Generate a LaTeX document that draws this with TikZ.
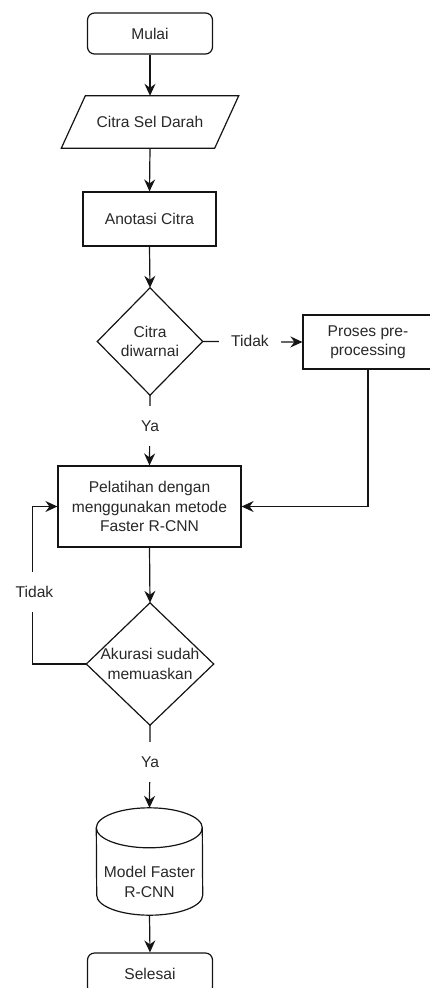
\documentclass[tikz,border=0pt]{standalone}
\usepackage{fontspec}
\setmainfont{Liberation Sans}
\usetikzlibrary{arrows.meta,calc}
\definecolor{txt}{RGB}{40,40,40}
\begin{document}
\begin{tikzpicture}[x=1pt,y=-1pt,
  every node/.style={font=\fontsize{15.6}{19.5}\selectfont, text=txt, inner sep=0pt, align=center},
  ln/.style={draw={rgb,255:red,20;green,20;blue,20}, line width=1.2pt},
  arr/.style={ln, -{Stealth[length=12pt,width=11pt,inset=4pt]}},
  term/.style={ln, rounded corners=7pt, minimum width=125, minimum height=41},
  proc/.style={ln, minimum width=#1},
  ghost/.style={draw=none},
  lbl/.style={fill=white, minimum width=#1, minimum height=40}
]
\useasboundingbox (0,0) rectangle (430,988);
\clip (0,0) rectangle (430,988);

% nodes
\node[term] (mulai) at (150,33.5) {Mulai};
\node[ghost, minimum width=177, minimum height=52] (citra) at (150,122) {Citra Sel Darah};
\draw[ln] ($(citra.north west)+(24,0)$) -- (citra.north east)
  -- ($(citra.south east)+(-24,0)$) -- (citra.south west) -- cycle;
\node[proc=133, minimum height=54] (anot) at (149.5,219) {Anotasi Citra};
\node[ghost, minimum width=105, minimum height=107] (d1) at (150,341.5) {Citra\\diwarnai};
\draw[ln] (d1.north) -- (d1.east) -- (d1.south) -- (d1.west) -- cycle;
\node[proc=130, minimum height=54] (proses) at (368,342) {Proses pre-\\processing};
\node[proc=183, minimum height=81] (pel) at (149.5,506.5) {Pelatihan dengan\\menggunakan metode\\Faster R-CNN};
\node[ghost, minimum width=127, minimum height=122] (d2) at (150,664) {Akurasi sudah\\memuaskan};
\draw[ln] (d2.north) -- (d2.east) -- (d2.south) -- (d2.west) -- cycle;
\node[ghost, minimum width=106, minimum height=107] (cyl) at (149.5,861.5) {};
\draw[ln] ($(cyl.north west)+(0,20)$) arc[start angle=180, end angle=0, x radius=53pt, y radius=20pt]
  -- ($(cyl.south east)+(0,-20)$) arc[start angle=0, end angle=-180, x radius=53pt, y radius=20pt] -- cycle;
\draw[ln] ($(cyl.north west)+(0,20)$) arc[start angle=180, end angle=360, x radius=53pt, y radius=20pt];
\node (cyltxt) at (149.5,882) {Model Faster\\R-CNN};
\node[term] (selesai) at (150,973.5) {Selesai};

% connectors
\draw[arr] (mulai.south) -- (citra.north);
\draw[arr] (citra.south) -- (anot.north);
\draw[arr] (anot.south) -- (d1.north);
\draw[arr] (d1.east) -- (proses.west);
\draw[arr] (d1.south) -- (pel.north);
\draw[arr] (proses.south) |- (pel.east);
\draw[arr] (pel.south) -- (d2.north);
\coordinate (loop) at (32.5,506.5);
\draw[arr] (d2.west) -| (loop) -- (pel.west);
\draw[arr] (d2.south) -- (cyl.north);
\draw[arr] (cyl.south) -- (selesai.north);

% labels
\node[fill=white, minimum width=62, minimum height=20] (t1) at (250,341) {Tidak};
\node[lbl=52] (y1) at (150,426) {Ya};
\node[lbl=65] (t2) at (34.5,592) {Tidak};
\node[lbl=52] (y2) at (150,762) {Ya};
\end{tikzpicture}
\end{document}
